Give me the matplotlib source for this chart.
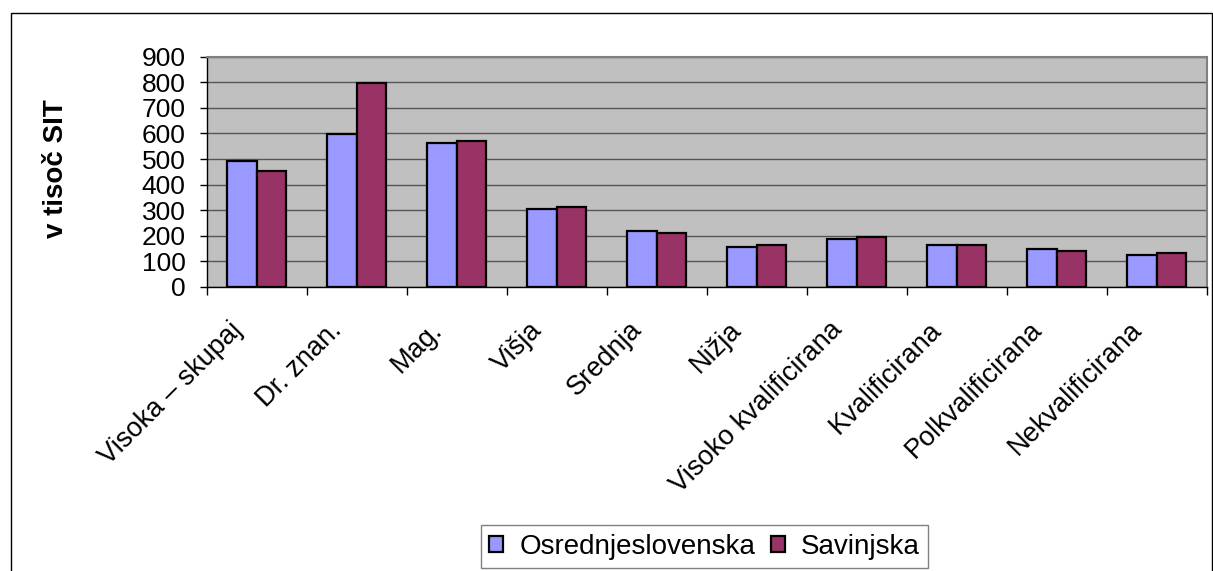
import matplotlib
matplotlib.use("Agg")
import matplotlib.pyplot as plt
from matplotlib.patches import Rectangle
from matplotlib.transforms import ScaledTranslation
import numpy as np

categories = ["Visoka – skupaj", "Dr. znan.", "Mag.", "Višja", "Srednja", "Nižja",
              "Visoko kvalificirana", "Kvalificirana", "Polkvalificirana", "Nekvalificirana"]
osrednjeslovenska = [492, 599, 561, 303, 218, 155, 187, 165, 147, 124]
savinjska = [452, 798, 570, 312, 211, 165, 196, 165, 141, 134]
series_names = ["Osrednjeslovenska", "Savinjska"]
yticks = [0, 100, 200, 300, 400, 500, 600, 700, 800, 900]

plt.rcParams['font.family'] = ['Liberation Sans', 'DejaVu Sans']

W, H = 1213, 571
fig = plt.figure(figsize=(W / 100, H / 100), dpi=100)
ax = fig.add_axes([207 / W, 1 - 287 / H, (1206.7 - 207) / W, (287 - 56.7) / H])

ax.set_facecolor('#C0C0C0')
x = np.arange(len(categories))
bw = 0.295
ax.bar(x - bw / 2, osrednjeslovenska, bw, color='#9999FF', edgecolor='black',
       linewidth=1.6, label=series_names[0], zorder=3)
ax.bar(x + bw / 2, savinjska, bw, color='#993366', edgecolor='black',
       linewidth=1.6, label=series_names[1], zorder=3)

ax.set_xlim(-0.5, len(categories) - 0.5)
ax.set_ylim(0, 900)
ax.set_yticks(yticks)
ax.set_yticklabels([str(v) for v in yticks], fontsize=19)
ax.yaxis.grid(True, color='#555555', linewidth=1.0, zorder=1)
ax.set_axisbelow(True)

ax.set_xticks(x)
ax.set_xticklabels(categories, rotation=45, ha='right', va='center',
                   rotation_mode='anchor', fontsize=19.5)
ax.tick_params(axis='x', which='major', length=0, pad=28)
off = ScaledTranslation(-0.19, 0, fig.dpi_scale_trans)
for lab in ax.get_xticklabels():
    lab.set_transform(lab.get_transform() + off)
ax.set_xticks(np.arange(-0.5, len(categories), 1.0), minor=True)
ax.tick_params(axis='x', which='minor', length=6, width=1, direction='out', color='black')
ax.tick_params(axis='y', length=5, width=1, direction='out', pad=10.5, color='black')

for s in ['top', 'right']:
    ax.spines[s].set_color('#808080')
    ax.spines[s].set_linewidth(1.5)
for s in ['left', 'bottom']:
    ax.spines[s].set_color('black')
    ax.spines[s].set_linewidth(1.0)

fig.text(56 / W, 1 - 169 / H, "v tisoč SIT", rotation=90, fontsize=20,
         fontweight='bold', ha='center', va='center')

leg = fig.legend(loc='center', bbox_to_anchor=(704.5 / W, 1 - 546.5 / H), ncol=2,
                 fontsize=20, frameon=True, fancybox=False, edgecolor='#808080',
                 framealpha=1, handlelength=0.5, handleheight=0.5, handletextpad=0.6,
                 columnspacing=0.55, borderpad=0.3, borderaxespad=0)
leg.get_frame().set_linewidth(1.0)

# outer figure border
fig.add_artist(Rectangle((10.5 / W, -0.05), (1212.3 - 10.5) / W, 1.05 - 13 / H,
                         transform=fig.transFigure, fill=False, edgecolor='black',
                         linewidth=1.0))

fig.savefig("out.png", dpi=100)
